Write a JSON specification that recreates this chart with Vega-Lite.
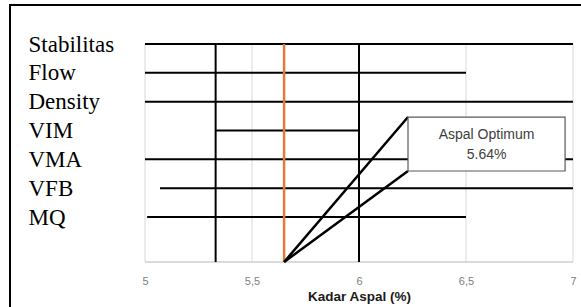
{
  "$schema": "https://vega.github.io/schema/vega-lite/v6.json",
  "width": 571,
  "height": 302,
  "padding": {"left": 10, "top": 5, "right": 0, "bottom": 0},
  "autosize": {"type": "none"},
  "background": "white",
  "config": {"view": {"stroke": null}},
  "datasets": {
    "ranges": [
      {"param": "Stabilitas", "from": 5.0, "to": 7.0},
      {"param": "Flow", "from": 5.0, "to": 6.5},
      {"param": "Density", "from": 5.0, "to": 7.0},
      {"param": "VIM", "from": 5.33, "to": 6.0},
      {"param": "VMA", "from": 5.0, "to": 7.0},
      {"param": "VFB", "from": 5.07, "to": 7.0},
      {"param": "MQ", "from": 5.01, "to": 6.5}
    ],
    "grid": [{"x": 5}, {"x": 5.5}, {"x": 6}, {"x": 6.5}, {"x": 7}],
    "limits": [{"x": 5.33}, {"x": 6.0}],
    "optimum": [{"x": 5.65}],
    "callout": [
      {"x": 5.65, "y": 0, "x2": 6.229, "y2": 0.665},
      {"x": 5.65, "y": 0, "x2": 6.229, "y2": 0.4174}
    ],
    "box": [{"x": 6.229, "x2": 6.963, "y": 0.4174, "y2": 0.665}],
    "note": [
      {"x": 6.596, "y": 0.5826, "text": "Aspal Optimum"},
      {"x": 6.596, "y": 0.4908, "text": "5.64%"}
    ]
  },
  "resolve": {"scale": {"y": "independent"}, "axis": {"x": "independent", "y": "independent"}},
  "layer": [
    {
      "layer": [
        {
          "data": {"values": [{"frame": "page"}]},
          "mark": {"type": "rect", "fill": null, "fillOpacity": 0, "stroke": "black", "strokeWidth": 2, "clip": false},
          "encoding": {
            "x": {"datum": 4.36916, "type": "quantitative", "scale": {"domain": [4.36916, 7.03738], "nice": false, "zero": false}, "axis": null},
            "x2": {"datum": 7.6},
            "y": {"datum": 1.1789, "type": "quantitative", "scale": {"domain": [-0.20642, 1.1789], "nice": false, "zero": false}, "axis": null},
            "y2": {"datum": -0.7}
          }
        },
        {
          "data": {"name": "grid"},
          "mark": {"type": "rule", "color": "#d9d9d9", "strokeWidth": 1},
          "encoding": {
            "x": {"field": "x", "type": "quantitative", "axis": null},
            "y": {"datum": 0, "type": "quantitative", "axis": null},
            "y2": {"datum": 1}
          }
        },
        {
          "data": {"name": "grid"},
          "mark": {"type": "rule", "color": "#d9d9d9", "strokeWidth": 1},
          "encoding": {
            "x": {"datum": 5, "type": "quantitative", "axis": null},
            "x2": {"datum": 7},
            "y": {"datum": 0, "type": "quantitative", "axis": null}
          }
        }
      ]
    },
    {
      "data": {"name": "ranges"},
      "mark": {"type": "rule", "color": "black", "strokeWidth": 2},
      "encoding": {
        "x": {
          "field": "from", "type": "quantitative",
          "scale": {"domain": [4.36916, 7.03738], "nice": false, "zero": false},
          "axis": {
            "values": [5, 5.5, 6, 6.5, 7],
            "labelExpr": "replace(format(datum.value, '~g'), '.', ',')",
            "offset": -45, "domain": false, "ticks": false, "grid": false,
            "labelFlush": false,
            "labelFont": "Liberation Sans", "labelFontSize": 11, "labelColor": "#808080", "labelPadding": 13,
            "title": "Kadar Aspal (%)", "titleFont": "Liberation Sans", "titleFontSize": 13.5, "titleFontWeight": "bold",
            "titleColor": "#1a1a1a", "titleX": 349, "titleY": 38, "titleBaseline": "alphabetic", "titleAlign": "center"
          }
        },
        "x2": {"field": "to"},
        "y": {
          "field": "param", "type": "nominal", "sort": null,
          "scale": {"type": "point", "range": [39, 212], "padding": 0},
          "axis": {
            "orient": "left", "title": null, "ticks": false, "tickSize": 0, "grid": false,
            "domain": false,
            "labelAlign": "left", "labelPadding": -18, "labelFont": "Liberation Serif", "labelFontSize": 23,
            "labelColor": "black", "labelBaseline": "middle"
          }
        }
      }
    },
    {
      "encoding": {
        "x": {"field": "x", "type": "quantitative", "axis": null}
      },
      "layer": [
        {
          "data": {"name": "limits"},
          "mark": {"type": "rule", "color": "black", "strokeWidth": 2},
          "encoding": {
            "y": {"datum": 0, "type": "quantitative", "scale": {"domain": [-0.20642, 1.1789], "nice": false, "zero": false}, "axis": null},
            "y2": {"datum": 1}
          }
        },
        {
          "data": {"name": "optimum"},
          "mark": {"type": "rule", "color": "#E07B39", "strokeWidth": 2.5},
          "encoding": {
            "y": {"datum": 0, "type": "quantitative", "axis": null},
            "y2": {"datum": 1}
          }
        },
        {
          "data": {"name": "callout"},
          "mark": {"type": "rule", "color": "black", "strokeWidth": 2.5},
          "encoding": {
            "x2": {"field": "x2"},
            "y": {"field": "y", "type": "quantitative", "axis": null},
            "y2": {"field": "y2"}
          }
        },
        {
          "data": {"name": "box"},
          "mark": {"type": "rect", "fill": "white", "stroke": "#595959", "strokeWidth": 1.2},
          "encoding": {
            "x2": {"field": "x2"},
            "y": {"field": "y", "type": "quantitative", "axis": null},
            "y2": {"field": "y2"}
          }
        },
        {
          "data": {"name": "note"},
          "mark": {"type": "text", "font": "Liberation Sans", "fontSize": 14, "color": "#404040", "align": "center", "baseline": "middle"},
          "encoding": {
            "y": {"field": "y", "type": "quantitative", "axis": null},
            "text": {"field": "text", "type": "nominal"}
          }
        }
      ]
    }
  ]
}
